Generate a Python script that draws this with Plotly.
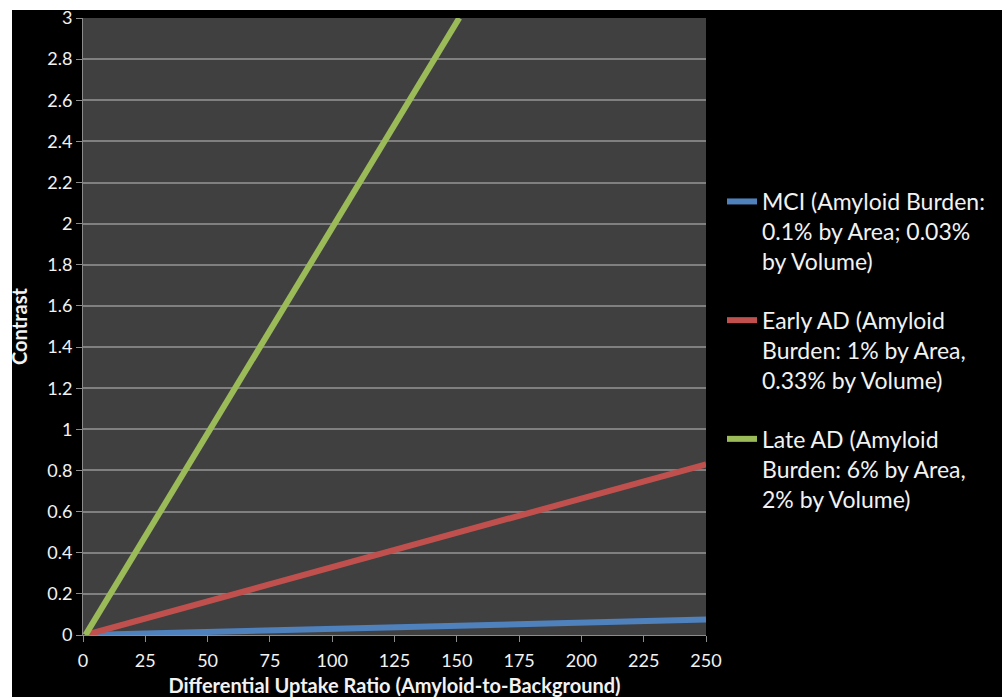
import plotly.graph_objects as go

# ---- data ----
dur_mci = [1, 250]
contrast_mci = [0.0, 0.075]
dur_early = [1, 250]
contrast_early = [0.0, 0.83]
dur_late = [1, 151]
contrast_late = [0.0, 3.0]

names = [
    "MCI (Amyloid Burden:<br>0.1% by Area; 0.03%<br>by Volume)",
    "Early AD (Amyloid<br>Burden: 1% by Area,<br>0.33% by Volume)",
    "Late AD (Amyloid<br>Burden: 6% by Area,<br>2% by Volume)",
]
colors = ["#4F81BD", "#C0504D", "#9BBB59"]
xs = [dur_mci, dur_early, dur_late]
ys = [contrast_mci, contrast_early, contrast_late]

x_ticks = [0, 25, 50, 75, 100, 125, 150, 175, 200, 225, 250]

FONT = "Lato, Carlito, 'Open Sans', sans-serif"
W, H = 1002, 697
L, R, T, B = 83, 296, 18, 62
pw, ph = W - L - R, H - T - B

def px_x(p):
    return (p - L) / pw

def px_y(p):
    return (H - B - p) / ph

fig = go.Figure()
for i in range(3):
    fig.add_trace(go.Scatter(
        x=xs[i], y=ys[i], mode="lines", name=names[i],
        legendgroup="g%d" % i,
        line=dict(color=colors[i], width=6),
    ))

fig.update_layout(
    width=W, height=H,
    margin=dict(l=L, r=R, t=T, b=B, autoexpand=False),
    paper_bgcolor="#000000",
    plot_bgcolor="#404040",
    font=dict(family=FONT, color="#F2F2F2", size=18),
    showlegend=True,
    legend=dict(
        x=px_x(722), xanchor="left",
        y=px_y(180), yanchor="top",
        font=dict(size=23, color="#F2F2F2", family=FONT),
        bgcolor="rgba(0,0,0,0)",
        traceorder="grouped",
        tracegroupgap=26,
        valign="top",
    ),
    xaxis=dict(
        range=[0, 250], tickvals=x_ticks, automargin=False,
        showgrid=False, zeroline=False,
        showline=True, linecolor="#8C8C8C", linewidth=1,
        ticks="outside", ticklen=6, tickcolor="#8C8C8C",
        ticklabelstandoff=3,
        tickfont=dict(size=18, color="#F2F2F2"),
        title=dict(text="<b>Differential Uptake Ratio (Amyloid-to-Background)</b>",
                   font=dict(size=20, color="#F2F2F2"), standoff=10),
    ),
    yaxis=dict(
        range=[0, 3], dtick=0.2, tick0=0, automargin=False,
        showgrid=True, gridcolor="#808080", gridwidth=1.5,
        zeroline=False,
        showline=True, linecolor="#8C8C8C", linewidth=1,
        ticks="outside", ticklen=6, tickcolor="#8C8C8C",
        tickfont=dict(size=18, color="#F2F2F2"),
        title=dict(text="<b>Contrast</b>",
                   font=dict(size=20, color="#F2F2F2"), standoff=14),
    ),
    shapes=[
        dict(type="rect", xref="paper", yref="paper",
             x0=px_x(0), x1=px_x(12), y0=px_y(H), y1=px_y(0),
             fillcolor="#FFFFFF", line=dict(width=0), layer="above"),
        dict(type="rect", xref="paper", yref="paper",
             x0=px_x(0), x1=px_x(W), y0=px_y(10), y1=px_y(0),
             fillcolor="#FFFFFF", line=dict(width=0), layer="above"),
    ],
)

fig.write_html(
    "out.html",
    config={"displayModeBar": False},
    post_script="document.body.style.margin='0';document.body.style.overflow='hidden';",
)
